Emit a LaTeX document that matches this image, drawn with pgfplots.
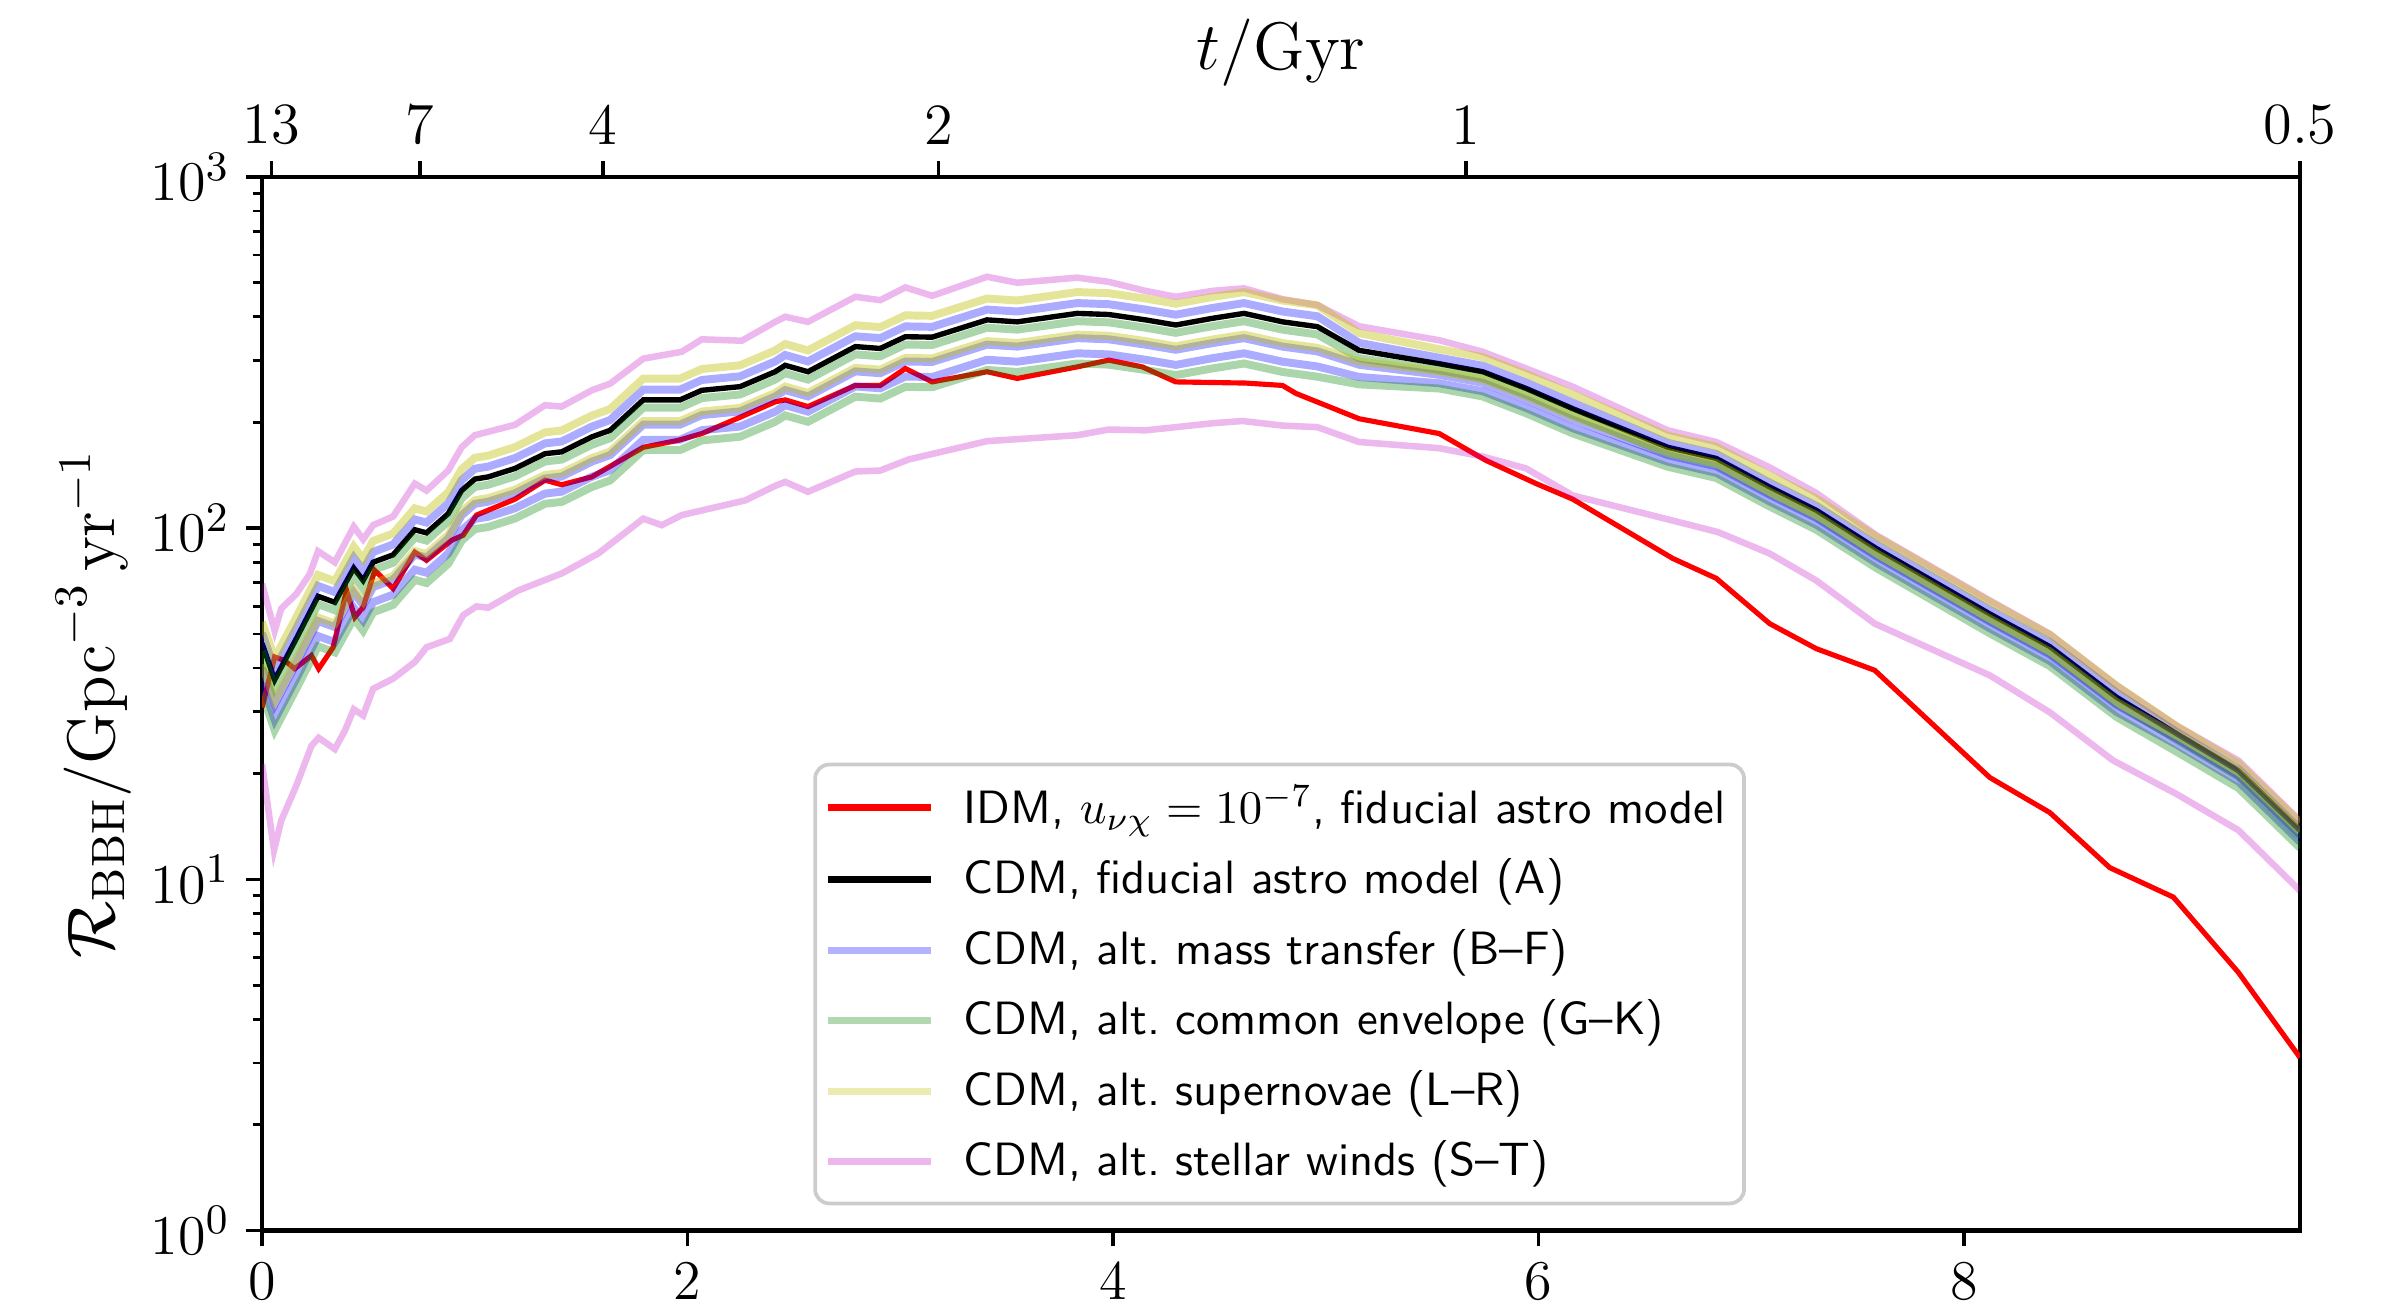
\documentclass[border=0pt]{standalone}
\usepackage{pgfplots}
\usepackage{pgfplotstable}
\pgfplotsset{compat=1.18}
\definecolor{cblue}{rgb}{0,0,1}
\definecolor{cgreen}{rgb}{0,0.5,0}
\definecolor{cyel}{rgb}{0.75,0.75,0}
\definecolor{cmag}{rgb}{0.75,0,0.75}

% CDM fiducial (A) and the alternative-model curves on the same redshift grid
\pgfplotstableread{
z A Y1 B1 G1 Y2 B2 B3 G3
0.000 47 54.1 50.3 44.7 40.9 40.0 36.2 33.8
0.059 37 42.6 39.6 35.2 32.2 31.5 28.5 26.6
0.161 48.5 55.8 51.9 46.1 42.2 41.2 37.3 34.9
0.263 64 73.6 68.5 60.8 55.7 54.4 49.3 46.1
0.342 61.5 70.7 65.8 58.4 53.5 52.3 47.4 44.3
0.431 77 88.6 82.4 73.2 67.0 65.5 59.3 55.4
0.475 71 81.7 76.0 67.5 61.8 60.4 54.7 51.1
0.522 80 92.0 85.6 76.0 69.6 68.0 61.6 57.6
0.616 84 96.6 89.9 79.8 73.1 71.4 64.7 60.5
0.718 99 113.9 105.9 94.1 86.1 84.2 76.2 71.3
0.773 97 111.6 103.8 92.2 84.4 82.5 74.7 69.8
0.875 110 126.5 117.7 104.5 95.7 93.5 84.7 79.2
0.938 128 147.2 137.0 121.6 111.4 108.8 98.6 92.2
1.000 138 158.7 147.7 131.1 120.1 117.3 106.3 99.4
1.063 140 161.0 149.8 133.0 121.8 119.0 107.8 100.8
1.189 148 170.2 158.4 140.6 128.8 125.8 114.0 106.6
1.330 163 187.5 174.4 154.9 141.8 138.6 125.5 117.4
1.408 165 189.8 176.6 156.8 143.6 140.3 127.1 118.8
1.550 182 209.3 194.7 172.9 158.3 154.7 140.1 131.0
1.636 190 218.5 203.3 180.5 165.3 161.5 146.3 136.8
1.792 232 266.8 248.2 220.4 201.8 197.2 178.6 167.0
1.965 232 266.8 248.2 220.4 201.8 197.2 178.6 167.0
2.067 247 284.0 264.3 234.7 214.9 210.0 190.2 177.8
2.247 253 291.0 270.7 240.4 220.1 215.1 194.8 182.2
2.412 279 320.9 298.5 265.0 242.7 237.2 214.8 200.9
2.459 291 334.7 311.4 276.5 253.2 247.4 224.1 209.5
2.566 279 320.9 298.5 265.0 242.7 237.2 214.8 200.9
2.789 329 378.4 352.0 312.6 286.2 279.7 253.3 236.9
2.906 325 373.8 347.8 308.8 282.8 276.3 250.3 234.0
3.024 351 403.7 375.6 333.5 305.4 298.4 270.3 252.7
3.150 350 402.5 374.5 332.5 304.5 297.5 269.5 252.0
3.408 392 450.8 419.4 372.4 341.0 333.2 301.8 282.2
3.550 387 445.1 414.1 367.7 336.7 329.0 298.0 278.6
3.832 409 470.4 437.6 388.6 355.8 347.7 314.9 294.5
3.980 406 466.9 434.4 385.7 353.2 345.1 312.6 292.3
4.153 392 450.8 419.4 372.4 341.0 333.2 301.8 282.2
4.295 379 435.9 405.5 360.1 329.7 322.2 291.8 272.9
4.467 396 455.4 423.7 376.2 344.5 336.6 304.9 285.1
4.616 409 470.4 437.6 388.6 355.8 347.7 314.9 294.5
4.797 387 445.1 414.1 367.7 336.7 329.0 298.0 278.6
4.961 375 431.3 401.3 356.3 326.3 318.8 288.8 270.0
5.157 321 359.5 337.1 305.0 298.5 292.1 269.6 256.8
5.534 294 323.4 305.8 282.2 279.3 273.4 258.7 249.9
5.738 279 306.9 290.2 267.8 265.1 259.5 245.5 237.2
5.942 250 275.0 260.0 240.0 237.5 232.5 220.0 212.5
6.161 219 240.9 227.8 210.2 208.1 203.7 192.7 186.2
6.608 170 183.6 175.1 163.2 164.9 161.5 154.7 149.6
6.836 158 170.6 162.7 151.7 153.3 150.1 143.8 139.0
7.087 131 141.5 134.9 125.8 127.1 124.5 119.2 115.3
7.306 112.5 121.5 115.9 108.0 109.1 106.9 102.4 99.0
7.589 87.5 94.5 90.1 84.0 84.9 83.1 79.6 77.0
8.122 57 61.6 58.7 54.7 55.3 54.2 51.9 50.2
8.404 46 49.7 47.4 44.2 44.6 43.7 41.9 40.5
8.718 33 35.6 34.0 31.7 32.0 31.4 30.0 29.0
9.000 26 27.3 26.3 25.0 25.7 25.2 24.2 23.1
9.291 20.4 21.4 20.6 19.6 20.2 19.8 19.0 18.2
9.580 13.8 14.5 13.9 13.2 13.7 13.4 12.8 12.3
}\maintab

% IDM, u = 1e-7
\pgfplotstableread{
z R
0.000 30.9
0.059 43
0.106 42
0.153 39.8
0.232 43.4
0.266 39.8
0.334 45.8
0.397 66.5
0.436 55.8
0.475 59.6
0.530 75.8
0.616 67.3
0.718 85.5
0.773 81
0.891 92.4
0.945 95.5
1.008 109
1.189 121
1.330 137
1.408 133
1.550 140
1.644 151
1.792 170
1.957 178
2.067 186
2.255 208
2.412 229
2.459 232
2.566 222
2.789 255
2.906 255
3.024 285
3.150 261
3.408 279
3.550 267
3.832 288
3.980 301
4.138 288
4.295 261
4.624 259
4.797 255
4.860 242
5.157 205
5.534 186
5.753 156
5.989 134
6.161 121
6.632 82
6.836 72
7.087 53.5
7.306 45.4
7.581 39.4
8.122 19.5
8.404 15.5
8.686 10.8
8.985 8.9
9.291 5.43
9.580 3.11
}\idmtab

% stellar winds, upper
\pgfplotstableread{
z R
0.000 69.5
0.059 51
0.090 59
0.161 65
0.224 74
0.263 86
0.342 80
0.431 101
0.475 93
0.522 102
0.616 108
0.718 134
0.773 128
0.875 146
0.938 170
1.000 184
1.189 197
1.330 224
1.408 222
1.550 247
1.636 258
1.792 304
1.973 318
2.067 345
2.255 342
2.412 387
2.459 400
2.566 387
2.789 456
2.906 446
3.024 485
3.150 459
3.408 520
3.550 500
3.832 517
3.980 503
4.153 474
4.295 456
4.467 474
4.616 482
4.797 449
4.961 432
5.157 376
5.534 343
5.738 318
5.942 285
6.161 253
6.608 190
6.836 176
7.087 149
7.306 126
7.589 95.5
8.122 62.3
8.404 50
8.718 35.7
9.000 27.4
9.291 21.8
9.580 14.7
}\swutab

% stellar winds, lower
\pgfplotstableread{
z R
0.000 21.3
0.056 12.1
0.090 14.7
0.161 18.5
0.232 24
0.266 25.3
0.342 23.5
0.389 26.5
0.431 30.5
0.475 29.3
0.522 34.9
0.616 37.3
0.718 41.6
0.773 45.8
0.883 48.4
0.945 56.5
1.008 59.9
1.063 59.4
1.204 66.5
1.408 74.3
1.580 84.7
1.792 106.5
1.879 102
1.973 109
2.271 120
2.412 132
2.459 135.5
2.566 127
2.789 145
2.906 146
3.040 157
3.408 177
3.832 184
3.980 191
4.153 190
4.295 194
4.467 199
4.608 202
4.797 196
4.961 194
5.157 176
5.534 169
5.738 160
5.942 148
6.161 124
6.624 105.4
6.844 97.5
7.087 84.7
7.306 71
7.581 53.5
8.122 38.1
8.404 29.9
8.702 21.8
9.000 17.5
9.291 13.8
9.580 9.29
}\swltab

\begin{document}
\begin{tikzpicture}
\useasboundingbox (-56.1pt,-17.6pt) rectangle (455.9pt,263.4pt);
\begin{axis}[
  scale only axis, width=436.2pt, height=225.5pt,
  xmin=0, xmax=9.58, ymin=1, ymax=1000, ymode=log,
  xtick={0,2,4,6,8}, ytick={1,10,100,1000},
  xtick pos=bottom, ytick pos=left,
  tick align=outside,
  major tick length=3.4pt, minor tick length=2pt,
  axis line style={line width=0.9pt},
  every major tick/.style={black, line width=0.8pt},
  every minor tick/.style={black, line width=0.6pt},
  tick label style={font=\fontsize{12.5}{14}\selectfont},
  ylabel={$\mathcal{R}_{\mathrm{BBH}}/\mathrm{Gpc}^{-3}\,\mathrm{yr}^{-1}$},
  ylabel style={font=\fontsize{14}{16}\selectfont, at={(axis description cs:-0.056,0.5)}, anchor=south},
  legend style={at={(0.2705,0.024)}, anchor=south west, draw=black!20, line width=0.8pt,
    rounded corners=3pt, fill=white, fill opacity=0.8, text opacity=1,
    font=\sffamily\fontsize{10}{12}\selectfont, row sep=2.1pt,
    inner xsep=2pt, inner ysep=2.4pt,
    /tikz/every odd column/.append style={column sep=4.3pt}},
  legend cell align=left,
  legend image code/.code={\draw[#1] (0pt,0pt) -- (22pt,0pt);},
]
\addlegendimage{red, line width=1.4pt}
\addlegendentry{IDM, $u_{\nu\chi}=10^{-7}$, fiducial astro model}
\addlegendimage{black, line width=1.4pt}
\addlegendentry{CDM, fiducial astro model (A)}
\addlegendimage{cblue, opacity=0.3, line width=1.5pt}
\addlegendentry{CDM, alt.\ mass transfer (B--F)}
\addlegendimage{cgreen, opacity=0.3, line width=1.5pt}
\addlegendentry{CDM, alt.\ common envelope (G--K)}
\addlegendimage{cyel, opacity=0.3, line width=1.5pt}
\addlegendentry{CDM, alt.\ supernovae (L--R)}
\addlegendimage{cmag, opacity=0.28, line width=1.5pt}
\addlegendentry{CDM, alt.\ stellar winds (S--T)}

\addplot[red, line width=1.1pt, forget plot] table[x=z,y=R]{\idmtab};
\addplot[black, line width=1.15pt, forget plot] table[x=z,y=A]{\maintab};
\addplot[cmag, opacity=0.28, line width=1.4pt, forget plot] table[x=z,y=R]{\swutab};
\addplot[cmag, opacity=0.28, line width=1.4pt, forget plot] table[x=z,y=R]{\swltab};
\addplot[cblue, opacity=0.33, line width=1.7pt, forget plot] table[x=z,y=B1]{\maintab};
\addplot[cblue, opacity=0.33, line width=1.7pt, forget plot] table[x=z,y=B2]{\maintab};
\addplot[cblue, opacity=0.33, line width=1.7pt, forget plot] table[x=z,y=B3]{\maintab};
\addplot[cgreen, opacity=0.33, line width=1.7pt, forget plot] table[x=z,y=G1]{\maintab};
\addplot[cgreen, opacity=0.33, line width=1.7pt, forget plot] table[x=z,y=G3]{\maintab};
\addplot[cyel, opacity=0.4, line width=1.7pt, forget plot] table[x=z,y=Y1]{\maintab};
\addplot[cyel, opacity=0.4, line width=1.7pt, forget plot] table[x=z,y=Y2]{\maintab};
\end{axis}
\begin{axis}[
  scale only axis, width=436.2pt, height=225.5pt,
  xmin=0, xmax=9.58, ymin=1, ymax=1000, ymode=log,
  axis x line*=top, hide y axis,
  xtick={0.044,0.742,1.601,3.18,5.66,9.58},
  xticklabels={13,7,4,2,1,0.5},
  tick align=outside, major tick length=3.4pt,
  axis line style={line width=0.9pt},
  every major tick/.style={black, line width=0.8pt},
  tick label style={font=\fontsize{12.5}{14}\selectfont},
  xlabel={$t/\mathrm{Gyr}$},
  xlabel style={font=\fontsize{14}{16}\selectfont, yshift=-3pt},
]
\end{axis}
\end{tikzpicture}
\end{document}
